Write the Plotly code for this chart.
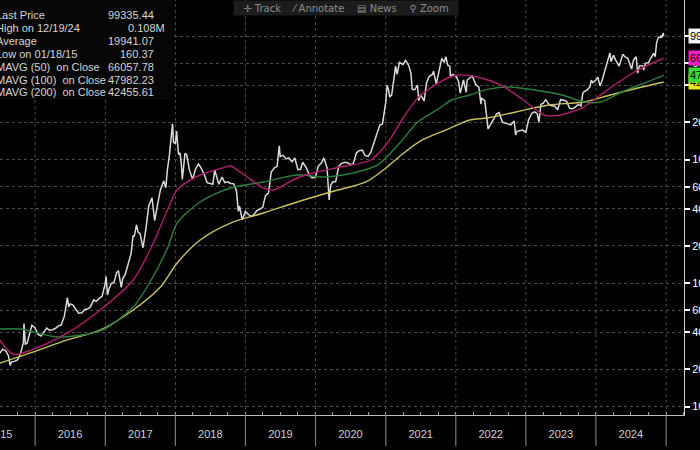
import numpy as np
import plotly.graph_objects as go

# ---------------- data ----------------
price_dates = [
    "2015-07-01","2015-07-15","2015-08-01","2015-08-15","2015-08-24","2015-09-01","2015-09-15","2015-10-01","2015-10-15",
    "2015-11-01","2015-11-04","2015-11-11","2015-11-20","2015-12-01","2015-12-15",
    "2016-01-01","2016-01-15","2016-02-01","2016-02-15","2016-03-01","2016-03-15","2016-04-01","2016-04-15","2016-05-01",
    "2016-05-15","2016-06-01","2016-06-17","2016-06-24","2016-07-01","2016-07-15","2016-08-01","2016-08-15","2016-09-01",
    "2016-09-15","2016-10-01","2016-10-15","2016-11-01","2016-11-15","2016-12-01","2016-12-15",
    "2017-01-01","2017-01-05","2017-01-12","2017-01-20","2017-02-01","2017-02-15","2017-03-01","2017-03-10","2017-03-25",
    "2017-04-01","2017-04-15","2017-05-01","2017-05-15","2017-05-25","2017-06-01","2017-06-12","2017-06-20","2017-07-01",
    "2017-07-16","2017-08-01","2017-08-15","2017-09-01","2017-09-15","2017-10-01","2017-10-15","2017-11-01","2017-11-12",
    "2017-11-20","2017-12-01","2017-12-17","2017-12-22",
    "2018-01-01","2018-01-07","2018-01-17","2018-01-25","2018-02-01","2018-02-06","2018-02-20","2018-03-01","2018-03-15",
    "2018-04-01","2018-04-15","2018-05-01","2018-05-15","2018-06-01","2018-06-15","2018-07-01","2018-07-15","2018-07-25",
    "2018-08-01","2018-08-15","2018-09-01","2018-09-15","2018-10-01","2018-10-15","2018-11-01","2018-11-15","2018-11-25",
    "2018-12-01","2018-12-15",
    "2019-01-01","2019-01-15","2019-02-01","2019-02-15","2019-03-01","2019-03-15","2019-04-01","2019-04-15","2019-05-01",
    "2019-05-15","2019-06-01","2019-06-15","2019-06-26","2019-07-01","2019-07-15","2019-08-01","2019-08-15","2019-09-01",
    "2019-09-15","2019-10-01","2019-10-15","2019-10-26","2019-11-01","2019-11-15","2019-12-01","2019-12-15",
    "2020-01-01","2020-01-15","2020-02-01","2020-02-13","2020-03-01","2020-03-12","2020-03-20","2020-04-01","2020-04-15",
    "2020-05-01","2020-05-15","2020-06-01","2020-06-15","2020-07-01","2020-07-15","2020-08-01","2020-08-15","2020-09-01",
    "2020-09-15","2020-10-01","2020-10-15","2020-11-01","2020-11-15","2020-12-01","2020-12-15",
    "2021-01-01","2021-01-08","2021-01-15","2021-01-22","2021-02-01","2021-02-15","2021-02-21","2021-03-01","2021-03-13",
    "2021-04-01","2021-04-14","2021-05-01","2021-05-12","2021-05-19","2021-06-01","2021-06-15","2021-06-22","2021-07-01",
    "2021-07-20","2021-08-01","2021-08-15","2021-09-01","2021-09-07","2021-09-21","2021-10-01","2021-10-20","2021-11-01",
    "2021-11-10","2021-11-20","2021-12-01","2021-12-04","2021-12-15",
    "2022-01-01","2022-01-15","2022-01-24","2022-02-01","2022-02-10","2022-02-24","2022-03-01","2022-03-28","2022-04-15",
    "2022-05-01","2022-05-12","2022-05-15","2022-06-01","2022-06-18","2022-07-01","2022-07-15","2022-08-01","2022-08-15",
    "2022-09-01","2022-09-15","2022-10-01","2022-10-15","2022-11-01","2022-11-09","2022-11-15","2022-12-01","2022-12-15",
    "2023-01-01","2023-01-15","2023-02-01","2023-02-15","2023-03-01","2023-03-10","2023-03-20","2023-04-01","2023-04-14",
    "2023-05-01","2023-05-15","2023-06-01","2023-06-15","2023-07-01","2023-07-15","2023-08-01","2023-08-17","2023-09-01",
    "2023-09-15","2023-10-01","2023-10-15","2023-10-25","2023-11-01","2023-11-15","2023-12-01","2023-12-08","2023-12-15",
    "2024-01-01","2024-01-11","2024-01-22","2024-02-01","2024-02-15","2024-03-01","2024-03-14","2024-03-20","2024-04-01",
    "2024-04-15","2024-05-01","2024-05-20","2024-06-01","2024-06-15","2024-07-05","2024-07-15","2024-07-29","2024-08-05",
    "2024-08-15","2024-09-01","2024-09-06","2024-09-15","2024-10-01","2024-10-15","2024-10-29","2024-11-05","2024-11-12",
    "2024-11-22","2024-12-01","2024-12-05","2024-12-09","2024-12-17","2024-12-19",
]
price_values = [
    270, 290, 282, 258, 215, 230, 232, 238, 262,
    330, 470, 320, 325, 370, 455,
    432, 385, 372, 405, 432, 415, 418, 428, 450,
    455, 535, 760, 640, 678, 665, 610, 570, 575,
    610, 615, 640, 730, 710, 755, 780,
    1000, 1130, 800, 895, 990, 1010, 1220, 1250, 920,
    1080, 1180, 1420, 1730, 2400, 2400, 2950, 2600, 2500,
    1930, 2800, 4200, 4900, 3200, 4400, 5700, 6700, 5900,
    8200, 10900, 19500, 13800,
    13500, 17000, 11000, 11300, 9100, 6900, 11200, 10900, 8200,
    6900, 8300, 9200, 8500, 7500, 6500, 6400, 6300, 8200,
    7600, 6300, 7200, 6500, 6600, 6400, 6350, 5600, 3800,
    4200, 3250,
    3800, 3600, 3450, 3600, 3850, 3950, 4100, 5100, 5350,
    7900, 8550, 8800, 12900, 10600, 10800, 10100, 10300, 9600,
    10300, 8300, 8300, 9500, 9150, 8500, 7400, 7100,
    7200, 8800, 9400, 10300, 8600, 4700, 6200, 6600, 6600,
    8800, 9300, 9500, 9400, 9100, 9200, 11300, 11800, 11900,
    10800, 10600, 11400, 13700, 15900, 19000, 19400,
    29000, 40000, 36800, 32000, 33500, 48000, 57000, 49000, 61000,
    58800, 63500, 57700, 50000, 37000, 36700, 40000, 30000, 33500,
    29800, 41500, 47000, 48800, 52000, 41000, 48100, 66000, 61000,
    68000, 58000, 57000, 47000, 48800,
    47500, 43000, 34500, 38500, 44000, 35000, 44000, 47500, 40500,
    38500, 28000, 31300, 30000, 17700, 19300, 20800, 23300, 24000,
    20000, 19700, 19300, 19100, 20500, 15800, 16900, 17000, 17300,
    16600, 20900, 23700, 24300, 23500, 20000, 28000, 28500, 30500,
    28000, 27200, 27000, 25200, 30500, 30300, 29700, 26000, 25800,
    26600, 27900, 27100, 34500, 35400, 36500, 38700, 44000, 42000,
    44000, 46500, 39500, 43000, 52000, 62000, 73000, 62000, 70000,
    63000, 57000, 71000, 67700, 66000, 54000, 64000, 68000, 50000,
    57500, 57300, 53000, 60000, 61000, 67000, 72500, 68000, 88000,
    98000, 97000, 101000, 97000, 106000, 99335.44,
]

ma50_dates = ["2015-07-01","2015-09-10","2015-12-20","2016-06-17","2016-12-05","2017-05-26","2017-08-22","2017-11-21",
              "2018-01-10","2018-05-10","2018-09-27","2018-10-15","2018-12-05","2019-01-10","2019-04-05","2019-05-26",
              "2019-09-27","2020-01-10","2020-05-10","2020-10-15","2021-01-10","2021-04-05","2021-06-17","2021-08-22",
              "2021-11-21","2022-01-10","2022-04-22","2022-08-22","2022-12-20","2023-04-05","2023-07-01","2023-10-30",
              "2024-01-25","2024-04-22","2024-08-07","2024-12-19"]
ma50_values = [346, 265, 290, 394, 605, 1058, 1850, 3900,
               5660, 7490, 8750, 8900, 7900, 7220, 5880, 5660,
               7080, 7920, 8700, 9910, 13600, 22090, 31480, 37940,
               45700, 48330, 46560, 40120, 30320, 22930, 22930, 26610,
               33290, 41600, 53050, 66057.78]

ma100_dates = ["2015-07-01","2015-10-15","2016-05-01","2016-12-15","2017-05-26","2017-08-22","2017-11-21","2018-01-10",
               "2018-05-10","2018-10-15","2019-04-05","2019-09-27","2020-02-15","2020-07-15","2020-11-20","2021-03-15",
               "2021-06-17","2021-10-10","2021-12-10","2022-03-15","2022-06-15","2022-10-10","2023-02-15","2023-07-10",
               "2023-10-30","2024-01-25","2024-05-15","2024-09-10","2024-12-19"]
ma100_values = [424, 424, 365, 416, 639, 1019, 1920, 3060,
                4530, 5880, 6580, 7490, 7220, 7780, 9030, 13600,
                20120, 26120, 30320, 33290, 37000, 38650, 36540, 33290,
                29210, 29210, 35210, 41600, 47982.23]

ma200_dates = ["2015-07-01","2015-12-20","2016-06-17","2016-12-05","2017-05-26","2017-10-15","2018-01-10","2018-05-10",
               "2018-10-15","2019-04-05","2019-09-27","2020-03-20","2020-09-20","2020-12-20","2021-04-05","2021-07-10",
               "2021-11-21","2022-03-15","2022-06-15","2022-11-10","2023-05-01","2023-10-30","2024-03-15","2024-08-07",
               "2024-12-19"]
ma200_values = [225, 276, 346, 416, 605, 928, 1452, 2230,
                3060, 3690, 4530, 5460, 6580, 8220, 11290, 14390,
                17600, 20880, 21680, 24250, 27620, 29210, 33290, 37940,
                42455.61]

year_labels = ["2015","2016","2017","2018","2019","2020","2021","2022","2023","2024"]
year_label_dates = ["2015-07-03","2016-07-01","2017-07-02","2018-07-02","2019-07-02",
                    "2020-07-01","2021-07-02","2022-07-02","2023-07-02","2024-07-01"]
year_bounds = ["2016-01-01","2017-01-01","2018-01-01","2019-01-01","2020-01-01",
               "2021-01-01","2022-01-01","2023-01-01","2024-01-01","2025-01-01"]

ytick_values = [100, 200, 400, 600, 1000, 2000, 4000, 6000, 10000, 20000, 40000, 60000, 100000]
ytick_text = ["100","200","400","600","1000","2000","4000","6000","10000","20000","40000","60000","100000"]

info_labels = ["Last Price", "High on 12/19/24", "Average", "Low on 01/18/15",
               "MAVG (50)&nbsp;&nbsp;on Close", "MAVG (100)&nbsp;&nbsp;on Close", "MAVG (200)&nbsp;&nbsp;on Close"]
info_values = ["99335.44", "0.108M", "19941.07", "160.37", "66057.78", "47982.23", "42455.61"]

tag_values = [99335.44, 66057.78, 42455.61, 47982.23]
tag_texts = ["99335.44", "66057.78", "42455.61", "47982.23"]
tag_colors = ["#f4f4f4", "#ee22c8", "#e6e61a", "#3ad83a"]

toolbar_items = ["✛ Track", "⁄ Annotate", "▤ News", "⚲ Zoom"]

# ---------------- figure ----------------
W, H = 700, 450
ML, MR, MT, MB = 0, 16, 0, 35
PW, PH = W - ML - MR, H - MT - MB
FONT = "Liberation Sans, Arial, sans-serif"

fig = go.Figure()
fig.add_trace(go.Scatter(x=price_dates, y=price_values, mode="lines",
                         line=dict(color="#dadada", width=1.5), hoverinfo="skip"))
fig.add_trace(go.Scatter(x=ma200_dates, y=ma200_values, mode="lines",
                         line=dict(color="#c9c25e", width=1.4, shape="spline", smoothing=0.8), hoverinfo="skip"))
fig.add_trace(go.Scatter(x=ma100_dates, y=ma100_values, mode="lines",
                         line=dict(color="#2b8040", width=1.4, shape="spline", smoothing=0.8), hoverinfo="skip"))
fig.add_trace(go.Scatter(x=ma50_dates, y=ma50_values, mode="lines",
                         line=dict(color="#b01f6c", width=1.4, shape="spline", smoothing=0.8), hoverinfo="skip"))

shapes = []
for d in year_bounds:
    shapes.append(dict(type="line", xref="x", yref="paper", x0=d, x1=d, y0=0, y1=1,
                       line=dict(color="#4a4a4a", width=1, dash="dot"), layer="below"))
    shapes.append(dict(type="line", xref="x", yref="paper", x0=d, x1=d, y0=0, y1=-31 / PH,
                       line=dict(color="#7a7a7a", width=1.2), layer="above"))
# info box background
shapes.append(dict(type="rect", xref="paper", yref="paper", x0=0, x1=172 / PW, y0=1 - 100 / PH, y1=1,
                   fillcolor="#060606", line=dict(width=0), layer="above"))

annotations = []
for i, (lab, val) in enumerate(zip(info_labels, info_values)):
    ys = -(15 + 12.9 * i)
    annotations.append(dict(xref="paper", yref="paper", x=0, y=1, xanchor="left", yanchor="middle",
                            xshift=-6, yshift=ys, text=lab, showarrow=False,
                            font=dict(family=FONT, size=11, color="#d4d4d4")))
    annotations.append(dict(xref="paper", yref="paper", x=0, y=1, xanchor="right", yanchor="middle",
                            xshift=167 if val.endswith("M") else 156, yshift=ys, text=val, showarrow=False,
                            font=dict(family=FONT, size=11, color="#d4d4d4")))

# toolbar
annotations.append(dict(xref="paper", yref="paper", x=346 / PW, y=1, xanchor="center", yanchor="top",
                        text="&nbsp;&nbsp;&nbsp;&nbsp;".join(toolbar_items), showarrow=False,
                        bgcolor="#1c1c1c", width=222, height=12, borderpad=1,
                        font=dict(family="DejaVu Sans, sans-serif", size=10, color="#8c8c8c")))

# right side value tags
for v, t, c in zip(tag_values, tag_texts, tag_colors):
    annotations.append(dict(xref="paper", yref="y", x=1, y=np.log10(v), xanchor="left", yanchor="middle",
                            xshift=4, text=t, showarrow=False, bgcolor=c, borderpad=1,
                            font=dict(family=FONT, size=11, color="#000000")))

fig.update_layout(
    template="none",
    width=W, height=H,
    margin=dict(l=ML, r=MR, t=MT, b=MB, autoexpand=False),
    paper_bgcolor="#000000", plot_bgcolor="#000000",
    showlegend=False,
    font=dict(family=FONT, color="#d8d8d8", size=11),
    shapes=shapes, annotations=annotations,
    xaxis=dict(type="date", range=["2015-07-02", "2025-04-04"], automargin=False,
               showgrid=False, zeroline=False, showline=True, linecolor="#bdbdbd", linewidth=1,
               tickmode="array", tickvals=year_label_dates, ticktext=year_labels, ticks="",
               ticklabeloverflow="allow",
               ticklabelstandoff=9, tickfont=dict(family=FONT, size=11, color="#d0d0d0"),
               minor=dict(tickmode="linear", tick0="2015-01-01", dtick="M3", ticks="inside",
                          ticklen=3, tickcolor="#9a9a9a", showgrid=False)),
    yaxis=dict(type="log", side="right", range=[1.9312, 5.2915], automargin=False,
               tickmode="array", tickvals=ytick_values, ticktext=ytick_text,
               ticks="outside", ticklen=5, tickwidth=2, tickcolor="#ffffff",
               ticklabeloverflow="allow",
               showline=True, linecolor="#cfcfcf", linewidth=1, zeroline=False,
               showgrid=True, gridcolor="#4c4c4c", griddash="dot", gridwidth=1,
               tickfont=dict(family=FONT, size=11, color="#ffffff")),
)

fig.write_html("out.html", config={"displayModeBar": False},
               post_script="document.body.style.margin='0';document.body.style.background='#000';")
